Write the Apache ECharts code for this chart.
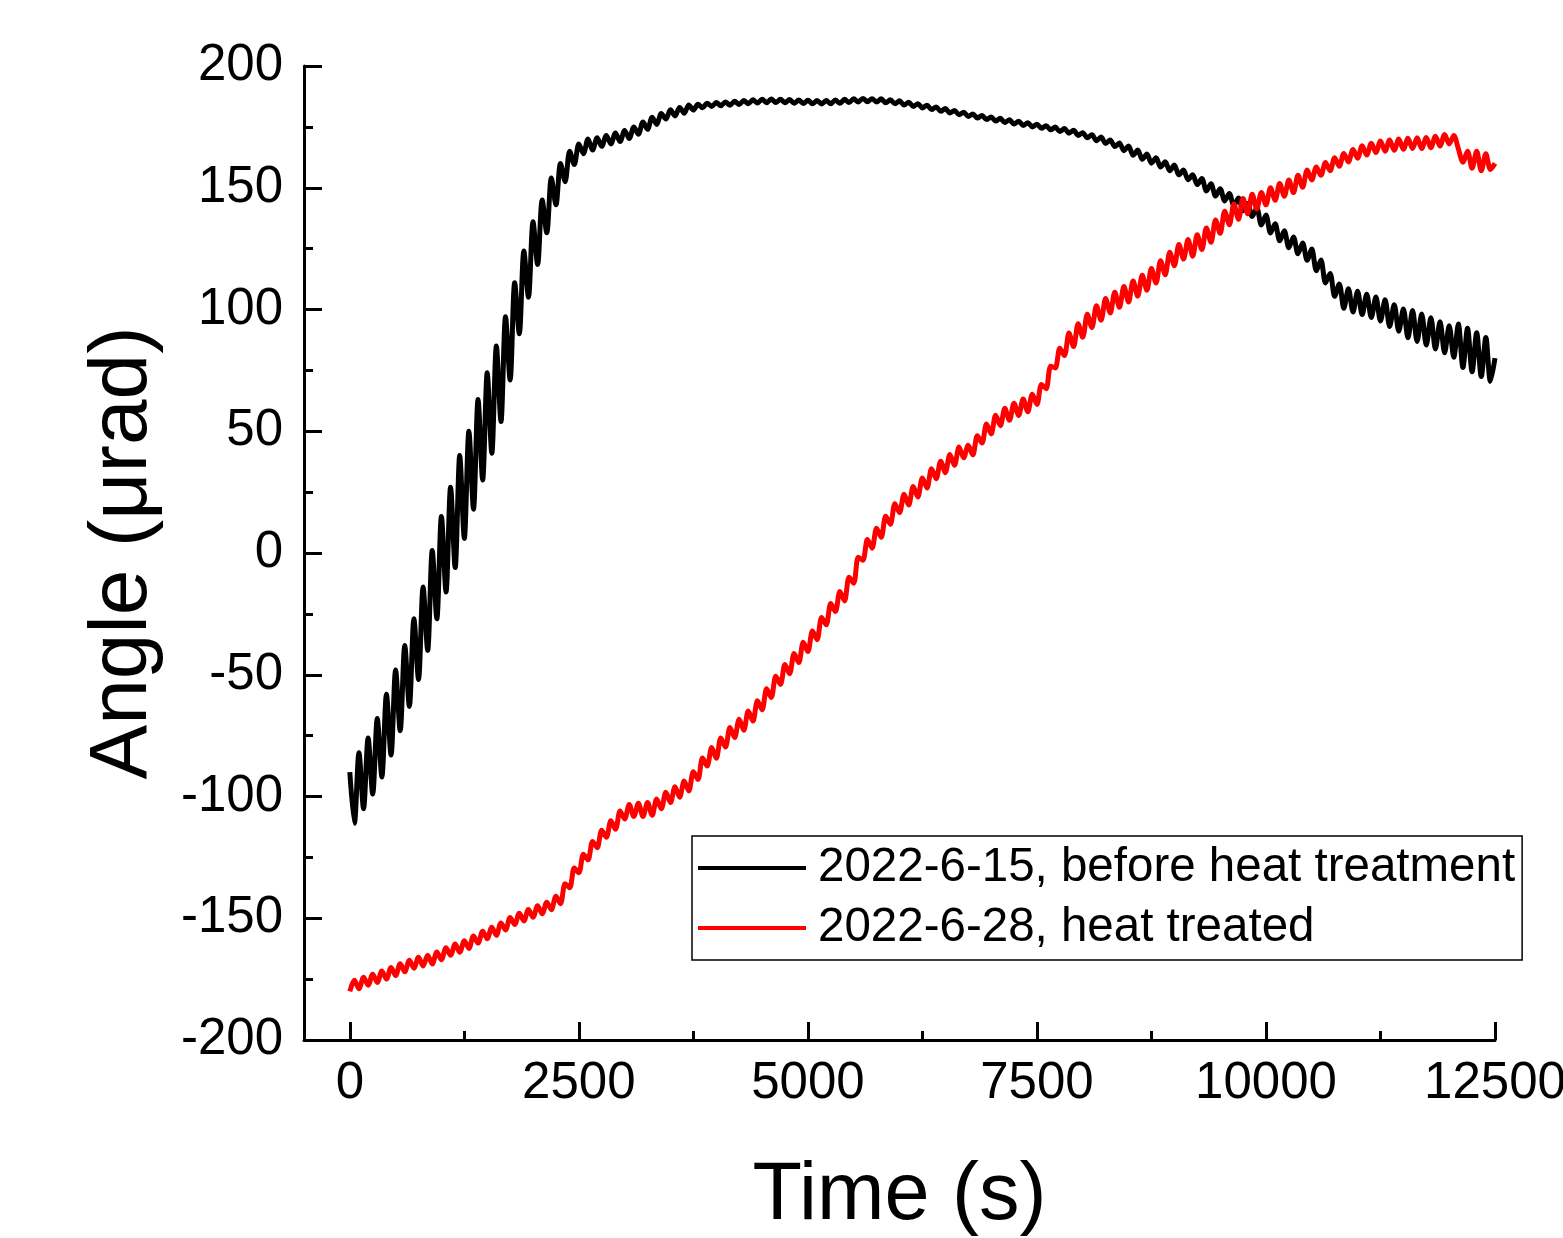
<!DOCTYPE html>
<html><head><meta charset="utf-8">
<script src="https://cdn.jsdelivr.net/npm/echarts@6/dist/echarts.min.js"></script>
<style>html,body{margin:0;padding:0;background:#fff}#c{width:1563px;height:1238px}</style>
</head><body><div id="c"></div>
<script>
// Time samples (s)
const timeS = [
0,50,100,150,200,250,300,350,400,450,500,550,600,650,700,750,800,850,900,950,
1000,1050,1100,1150,1200,1250,1300,1350,1400,1450,1500,1550,1600,1650,1700,1750,1800,1850,1900,1950,
2000,2050,2100,2150,2200,2250,2300,2350,2400,2450,2500,2550,2600,2650,2700,2750,2800,2850,2900,2950,
3000,3050,3100,3150,3200,3250,3300,3350,3400,3450,3500,3550,3600,3650,3700,3750,3800,3850,3900,3950,
4000,4050,4100,4150,4200,4250,4300,4350,4400,4450,4500,4550,4600,4650,4700,4750,4800,4850,4900,4950,
5000,5050,5100,5150,5200,5250,5300,5350,5400,5450,5500,5550,5600,5650,5700,5750,5800,5850,5900,5950,
6000,6050,6100,6150,6200,6250,6300,6350,6400,6450,6500,6550,6600,6650,6700,6750,6800,6850,6900,6950,
7000,7050,7100,7150,7200,7250,7300,7350,7400,7450,7500,7550,7600,7650,7700,7750,7800,7850,7900,7950,
8000,8050,8100,8150,8200,8250,8300,8350,8400,8450,8500,8550,8600,8650,8700,8750,8800,8850,8900,8950,
9000,9050,9100,9150,9200,9250,9300,9350,9400,9450,9500,9550,9600,9650,9700,9750,9800,9850,9900,9950,
10000,10050,10100,10150,10200,10250,10300,10350,10400,10450,10500,10550,10600,10650,10700,10750,10800,10850,10900,10950,
11000,11050,11100,11150,11200,11250,11300,11350,11400,11450,11500,11550,11600,11650,11700,11750,11800,11850,11900,11950,
12000,12050,12100,12150,12200,12250,12300,12350,12400,12450,12500
];

// 2022-6-15, before heat treatment (µrad)
const angleBefore = [
-90,-111,-82,-105,-76,-99,-68,-92,-58,-83,-48,-73,-38,-63,-27,-52,-14,-40,1,-27,
15,-16,27,-6,40,6,50,18,63,30,74,41,85,54,97,71,111,90,124,105,
136,118.5,145,131.5,154,143,160,152.5,165,159.5,168,
164,170,165.5,170.5,167,171.5,168,172.5,169,173.5,
170.2,175,172,177,174,179,176,180.5,178.2,182,
179.5,183,180.6,184,181.9,184.3,182.9,184.7,183.4,185,
183.7,185.2,183.9,185.5,184.2,185.8,184.5,186.1,184.8,186.3,
184.9,186.4,185,186.3,184.9,186.2,184.7,186,184.6,185.9,
184.5,185.8,184.4,185.8,184.5,186,184.7,186.3,185,186.5,
185.2,186.7,185.3,186.6,185.2,186.5,184.9,186.1,184.5,185.7,
184,185.1,183.4,184.5,182.8,183.9,182.1,183.2,181.4,182.5,
180.7,181.7,180,181,179.3,180.3,178.6,179.7,178,179.1,
177.4,178.5,176.8,177.9,176.2,177.3,175.6,176.7,175,176.1,
174.4,175.5,173.8,174.9,173.1,174.3,172.4,173.6,171.5,172.6,
170.5,171.8,169.3,170.8,168.2,169.6,166.9,168.4,165.2,167.1,
163.3,165.5,161.7,163.9,160.1,162.3,158.5,160.7,157,159.3,
155.3,157.3,153.3,155.3,151.3,153.8,148.7,151.6,146.6,149.6,
144.6,147.6,142.7,145.8,140.6,143.5,138.2,141.8,134.7,138.8,
131.4,135.2,128.2,132.3,125.4,129.8,122.9,127.3,120.2,124.8,
115.9,120.3,110.9,114.8,105.4,110.5,100.5,108.5,99,107.5,
97.9,106.3,96.7,105.1,95.3,104,93,102,91.1,100.2,
88.4,99.6,86.9,98.2,85.4,96.6,83.8,95,82.2,93.3,
80.4,94,76.2,92.3,74.4,90.5,72.5,88.5,70.5,80
];

// 2022-6-28, heat treated (µrad)
const angleTreated = [
-180,-175.5,-179,-174.2,-177.5,-173,-176.4,-171.7,-175,-170.2,-173.5,
-168.7,-172,-167.2,-170.5,-166,-169.6,-165.2,-168.8,-163.9,-167,
-162.1,-165.2,-160.6,-164,-159.2,-162.4,-157.3,-160.2,-155.3,-158.4,
-153.7,-157,-151.9,-154.8,-149.7,-152.6,-147.9,-151.1,-146.4,-149.6,
-144.9,-148.2,-143.4,-146.5,-141,-144,-135.8,-137.5,-129.4,-131.3,
-123.7,-126,-118.5,-121,-113.9,-116.7,-110,-113.5,-106,-109.2,
-103.3,-108.2,-102.8,-108.2,-102.5,-107.7,-101,-105,-98.3,-102.5,
-96,-100.3,-93.6,-97.7,-89.8,-93,-84.2,-87.5,-79.9,-84.3,
-76,-79.7,-71.7,-75.8,-68.3,-72.8,-64.9,-69,-60.7,-64.4,
-55.8,-59.3,-50.6,-54,-45.8,-49.6,-41.3,-45,-36.7,-40.5,
-32,-35.6,-26.5,-29.5,-20.7,-24,-15.8,-19.7,-10,-12.4,
-1.7,-3,5.5,2,10.2,6.5,15.1,11.8,20.2,16.6,
24.1,19.7,27.3,23,30.8,26.7,34.6,30.5,37.7,33,
40.5,36,43.5,39.1,44.2,40.3,48.2,45.2,53,48.9,
56.6,52.3,59.4,54.5,61.5,56.5,63.2,58,65.2,61,
69.2,67.5,76.7,76,84.1,81.1,90.3,84.8,94.1,88.6,
98,92.6,101.5,95.6,104.5,98.6,107.1,100.9,109.4,103.1,
111.7,105.5,114.1,107.9,116.8,110.9,120,114.3,123.5,118,
126.7,120.7,128.7,121.9,130.7,124.6,133.5,127.6,136.8,131.3,
140.4,134.8,143.3,137.1,145.6,139.3,147.3,141.3,148.1,143,
150,144.9,151.7,146.5,153.2,148,155.1,150.2,157.3,153.2,
158.5,155.1,160.4,157,162.3,158.8,164.1,160.6,165.7,162.1,
167.2,163.4,168.3,164.5,169.2,165,169.6,165.4,170,165.8,
170.3,166.1,170.5,166.1,170.6,166.4,171.2,167.1,171.9,168,
171.5,166,160.5,165,158,165,157,164,157.5,160
];

const seriesNames = ['2022-6-15, before heat treatment', '2022-6-28, heat treated'];
const xMajorTicks = [0, 2500, 5000, 7500, 10000, 12500];
const xMinorTicks = [1250, 3750, 6250, 8750, 11250];

const font = '"Liberation Sans", Arial, sans-serif';
const pair = (ys) => timeS.map((t, i) => [t, ys[i]]);
const plain = (v) => String(v);

const chart = echarts.init(document.getElementById('c'), null, {renderer: 'canvas'});
chart.setOption({
  animation: false,
  backgroundColor: '#fff',
  grid: {left: 304, right: 68, top: 66, bottom: 198, containLabel: false, outerBoundsMode: 'none'},
  xAxis: [{
    type: 'value', min: -500, max: 12500, position: 'bottom',
    axisLine: {show: true, onZero: false, lineStyle: {color: '#000', width: 3}},
    axisTick: {show: true, inside: true, length: 18, lineStyle: {color: '#000', width: 3}, customValues: xMajorTicks},
    axisLabel: {show: true, customValues: xMajorTicks, formatter: plain, margin: 18, fontSize: 51, color: '#000', fontFamily: font, hideOverlap: false},
    splitLine: {show: false},
    name: 'Time (s)', nameLocation: 'middle', nameGap: 116,
    nameTextStyle: {fontSize: 81, color: '#000', fontFamily: font}
  }, {
    type: 'value', min: -500, max: 12500, position: 'bottom', gridIndex: 0,
    axisLine: {show: false, onZero: false},
    axisTick: {show: true, inside: true, length: 9, lineStyle: {color: '#000', width: 3}, customValues: xMinorTicks},
    axisLabel: {show: false},
    splitLine: {show: false}
  }],
  yAxis: {
    type: 'value', min: -200, max: 200, interval: 50,
    axisLine: {show: true, onZero: false, lineStyle: {color: '#000', width: 3}},
    axisTick: {show: true, inside: true, length: 18, lineStyle: {color: '#000', width: 3}},
    minorTick: {show: true, splitNumber: 2, length: 9, lineStyle: {color: '#000', width: 3}},
    axisLabel: {margin: 21, fontSize: 51, color: '#000', fontFamily: font, formatter: plain},
    splitLine: {show: false},
    name: 'Angle (μrad)', nameLocation: 'middle', nameGap: 140, nameRotate: 90,
    nameTextStyle: {fontSize: 82, color: '#000', fontFamily: font}
  },
  legend: {
    left: 692, top: 836, orient: 'vertical',
    icon: 'rect', itemWidth: 108, itemHeight: 4, itemGap: 10,
    padding: [7, 7, 7, 6],
    borderColor: '#000', borderWidth: 1.5, backgroundColor: '#fff',
    textStyle: {fontSize: 47.5, lineHeight: 50, color: '#000', fontFamily: font, padding: [0, 0, 0, 7]},
    data: seriesNames
  },
  series: [{
    name: seriesNames[0], type: 'line', xAxisIndex: 0, data: pair(angleBefore),
    showSymbol: false, symbol: 'none', smooth: 0.3,
    lineStyle: {color: '#000', width: 5},
    itemStyle: {color: '#000'}, z: 2
  }, {
    name: seriesNames[1], type: 'line', xAxisIndex: 0, data: pair(angleTreated),
    showSymbol: false, symbol: 'none', smooth: 0.3,
    lineStyle: {color: '#ff0000', width: 5},
    itemStyle: {color: '#ff0000'}, z: 3
  }]
});
</script>
</body></html>
